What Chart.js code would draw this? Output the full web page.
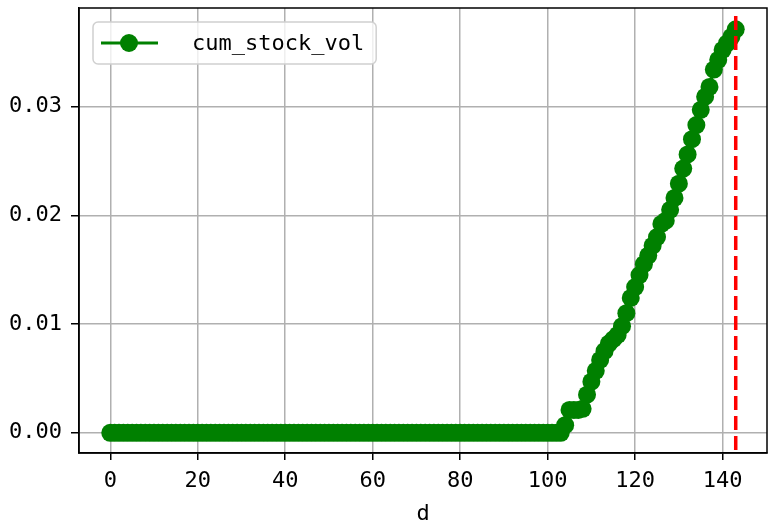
<!DOCTYPE html>
<html>
<head>
<meta charset="utf-8">
<script src="https://cdn.jsdelivr.net/npm/chart.js@4/dist/chart.umd.min.js"></script>
<style>
html, body { margin: 0; padding: 0; background: #fff; }
</style>
</head>
<body>
<canvas id="grafico" width="769" height="526"></canvas>
<script>
const serieNome = 'cum_stock_vol';

// valores por dia (d = posição no array, 0..143)
const cumStockVol = [
    0, 0, 0, 0, 0, 0, 0, 0, 0, 0,
    0, 0, 0, 0, 0, 0, 0, 0, 0, 0,
    0, 0, 0, 0, 0, 0, 0, 0, 0, 0,
    0, 0, 0, 0, 0, 0, 0, 0, 0, 0,
    0, 0, 0, 0, 0, 0, 0, 0, 0, 0,
    0, 0, 0, 0, 0, 0, 0, 0, 0, 0,
    0, 0, 0, 0, 0, 0, 0, 0, 0, 0,
    0, 0, 0, 0, 0, 0, 0, 0, 0, 0,
    0, 0, 0, 0, 0, 0, 0, 0, 0, 0,
    0, 0, 0, 0, 0, 0, 0, 0, 0, 0,
    0, 0, 0, 0, 0.0007, 0.0021, 0.0021, 0.0021, 0.0022, 0.0035,
    0.0047, 0.0057, 0.0067, 0.0075, 0.0082, 0.0086, 0.0090, 0.0098, 0.0110, 0.0124,
    0.0134, 0.0145, 0.0155, 0.0163, 0.0172, 0.0180, 0.0192, 0.0195, 0.0205, 0.0216,
    0.0229, 0.0243, 0.0256, 0.0270, 0.0283, 0.0297, 0.0309, 0.0318, 0.0334, 0.0343,
    0.0352, 0.0358, 0.0364, 0.0371
];

const xTicks = [0, 20, 40, 60, 80, 100, 120, 140];
const yTicks = [0, 0.01, 0.02, 0.03];
const xLimites = [-7.15, 150.15];
const yLimites = [-0.00186, 0.03906];
const linhaVertical = 143;

const fonte = '"DejaVu Sans Mono", "Liberation Mono", monospace';
const verde = '#008000';

const pontos = cumStockVol.map((v, i) => ({ x: i, y: v }));

const extras = {
    id: 'extras',
    afterDatasetsDraw(chart) {
        const { ctx, chartArea, scales } = chart;
        const px = scales.x.getPixelForValue(linhaVertical);
        ctx.save();
        ctx.beginPath();
        ctx.rect(chartArea.left, chartArea.top, chartArea.right - chartArea.left, chartArea.bottom - chartArea.top);
        ctx.clip();
        ctx.strokeStyle = '#ff0000';
        ctx.lineWidth = 3.5;
        ctx.setLineDash([14, 6]);
        ctx.beginPath();
        ctx.moveTo(px, chartArea.top + 8);
        ctx.lineTo(px, chartArea.bottom);
        ctx.stroke();
        ctx.restore();
    },
    afterDraw(chart) {
        const { ctx, chartArea } = chart;
        ctx.save();
        // moldura (spines)
        ctx.strokeStyle = '#000';
        ctx.lineWidth = 1.5;
        ctx.strokeRect(chartArea.left, chartArea.top, chartArea.right - chartArea.left, chartArea.bottom - chartArea.top);

        // legenda
        ctx.font = '22px ' + fonte;
        const larguraTexto = ctx.measureText(serieNome).width;
        const bx = chartArea.left + 14;
        const by = chartArea.top + 14;
        const bw = 111 + larguraTexto;
        const bh = 42;
        ctx.beginPath();
        ctx.roundRect(bx, by, bw, bh, 5);
        ctx.fillStyle = 'rgba(255,255,255,0.8)';
        ctx.fill();
        ctx.strokeStyle = '#d0d0d0';
        ctx.lineWidth = 1.5;
        ctx.stroke();

        const cy = by + bh / 2;
        ctx.strokeStyle = verde;
        ctx.lineWidth = 3;
        ctx.beginPath();
        ctx.moveTo(bx + 8, cy);
        ctx.lineTo(bx + 65, cy);
        ctx.stroke();
        ctx.fillStyle = verde;
        ctx.beginPath();
        ctx.arc(bx + 36, cy, 9, 0, Math.PI * 2);
        ctx.fill();

        ctx.fillStyle = '#000';
        ctx.textBaseline = 'middle';
        ctx.textAlign = 'left';
        ctx.fillText(serieNome, bx + 99, cy + 1);
        ctx.restore();
    }
};

new Chart(document.getElementById('grafico').getContext('2d'), {
    type: 'line',
    data: {
        datasets: [{
            label: serieNome,
            data: pontos,
            borderColor: verde,
            backgroundColor: verde,
            borderWidth: 3,
            pointRadius: 9,
            pointHoverRadius: 9,
            pointBorderWidth: 0,
            tension: 0
        }]
    },
    options: {
        responsive: false,
        animation: false,
        devicePixelRatio: 1,
        layout: { autoPadding: false, padding: { left: 0, right: 2, top: 8, bottom: 0 } },
        plugins: {
            legend: { display: false },
            tooltip: { enabled: false }
        },
        scales: {
            x: {
                type: 'linear',
                min: xLimites[0],
                max: xLimites[1],
                afterBuildTicks: s => { s.ticks = xTicks.map(v => ({ value: v })); },
                afterFit: s => { s.height = 73; s.paddingLeft = 0; s.paddingRight = 0; },
                grid: { color: '#b0b0b0', lineWidth: 1.5, tickColor: '#000', tickLength: 7, tickWidth: 1.5 },
                border: { display: true, color: '#000', width: 1.5 },
                ticks: { font: { family: fonte, size: 22 }, color: '#000', padding: 8, maxRotation: 0, autoSkip: false },
                title: { display: true, text: 'd', font: { family: fonte, size: 22 }, color: '#000', padding: { top: 0, bottom: -1 } }
            },
            y: {
                min: yLimites[0],
                max: yLimites[1],
                afterBuildTicks: s => { s.ticks = yTicks.map(v => ({ value: v })); },
                afterFit: s => { s.width = 79; s.paddingTop = 0; s.paddingBottom = 0; },
                grid: { color: '#b0b0b0', lineWidth: 1.5, tickColor: '#000', tickLength: 8, tickWidth: 1.5 },
                border: { display: true, color: '#000', width: 1.5 },
                ticks: {
                    font: { family: fonte, size: 22 },
                    color: '#000',
                    padding: 9,
                    callback: v => v.toFixed(2)
                }
            }
        }
    },
    plugins: [extras]
});
</script>
</body>
</html>
